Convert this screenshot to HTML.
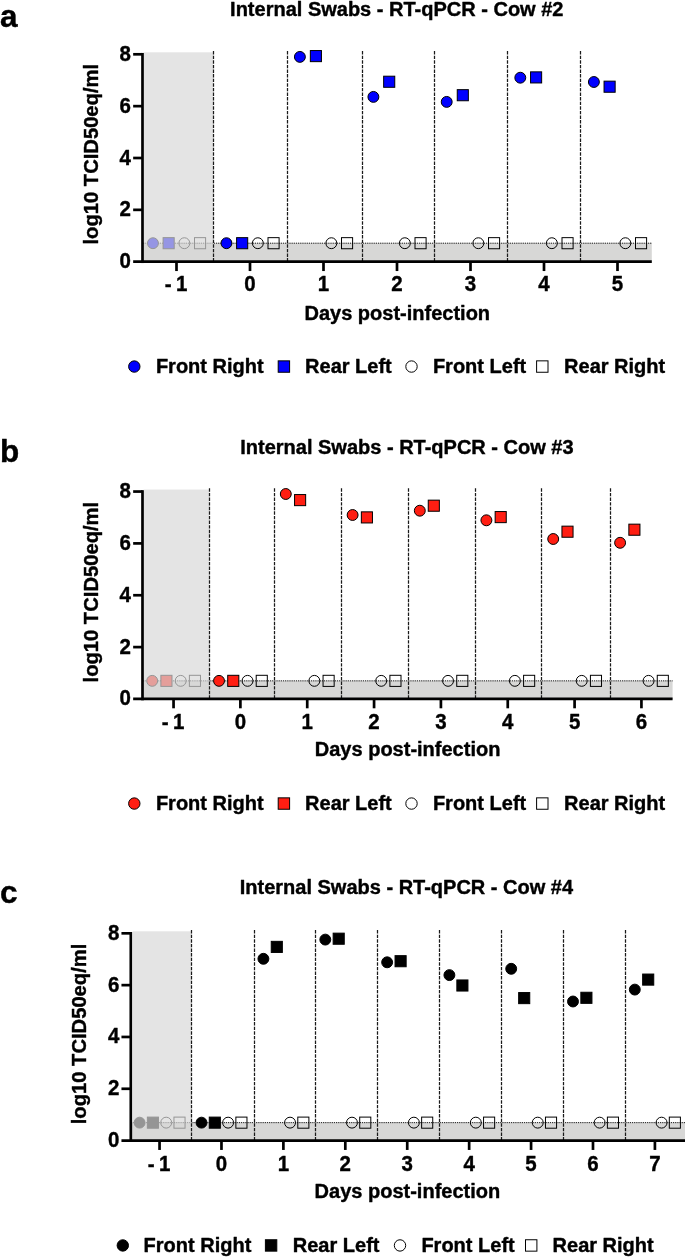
<!DOCTYPE html>
<html><head><meta charset="utf-8"><title>Internal Swabs - RT-qPCR</title>
<style>
html,body{margin:0;padding:0;background:#fff;}
body{width:685px;height:1258px;overflow:hidden;}
svg{display:block;}
svg text{font-family:'Liberation Sans', sans-serif;font-weight:bold;fill:#000;stroke:#000;stroke-width:0.4px;stroke-linejoin:round;}
</style></head><body>
<svg width="685" height="1258" viewBox="0 0 685 1258">
<rect width="685" height="1258" fill="#fff"/>
<g id="chart-a">
<rect x="142.5" y="243.2" width="509.3" height="18.5" fill="#d7d7d6"/>
<line x1="287.5" y1="51.1" x2="287.5" y2="261.7" stroke="#1a1a1a" stroke-width="1.25" stroke-dasharray="3.4 1.2"/>
<line x1="362.5" y1="51.1" x2="362.5" y2="261.7" stroke="#1a1a1a" stroke-width="1.25" stroke-dasharray="3.4 1.2"/>
<line x1="434.5" y1="51.1" x2="434.5" y2="261.7" stroke="#1a1a1a" stroke-width="1.25" stroke-dasharray="3.4 1.2"/>
<line x1="507.5" y1="51.1" x2="507.5" y2="261.7" stroke="#1a1a1a" stroke-width="1.25" stroke-dasharray="3.4 1.2"/>
<line x1="580.5" y1="51.1" x2="580.5" y2="261.7" stroke="#1a1a1a" stroke-width="1.25" stroke-dasharray="3.4 1.2"/>
<line x1="142.5" y1="243.2" x2="651.8" y2="243.2" stroke="#161616" stroke-width="1" stroke-dasharray="1.25 0.91"/>
<circle cx="152.95" cy="243.2" r="5.45" fill="#0000ff" stroke="#000" stroke-width="1"/>
<rect x="163.1" y="237.65" width="11.1" height="11.1" fill="#0000ff" stroke="#000" stroke-width="1"/>
<circle cx="184.35" cy="243.2" r="5.45" fill="none" stroke="#000" stroke-width="1"/>
<rect x="194.5" y="237.65" width="11.1" height="11.1" fill="none" stroke="#000" stroke-width="1"/>
<circle cx="226.45" cy="243.2" r="5.45" fill="#0000ff" stroke="#000" stroke-width="1"/>
<rect x="236.6" y="237.65" width="11.1" height="11.1" fill="#0000ff" stroke="#000" stroke-width="1"/>
<circle cx="257.85" cy="243.2" r="5.45" fill="none" stroke="#000" stroke-width="1"/>
<rect x="268" y="237.65" width="11.1" height="11.1" fill="none" stroke="#000" stroke-width="1"/>
<circle cx="299.9" cy="56.9" r="5.45" fill="#0000ff" stroke="#000" stroke-width="1"/>
<rect x="310.35" y="50.55" width="11.1" height="11.1" fill="#0000ff" stroke="#000" stroke-width="1"/>
<circle cx="331.35" cy="243.2" r="5.45" fill="none" stroke="#000" stroke-width="1"/>
<rect x="341.5" y="237.65" width="11.1" height="11.1" fill="none" stroke="#000" stroke-width="1"/>
<circle cx="373.4" cy="96.9" r="5.45" fill="#0000ff" stroke="#000" stroke-width="1"/>
<rect x="383.65" y="76.2" width="11.1" height="11.1" fill="#0000ff" stroke="#000" stroke-width="1"/>
<circle cx="404.85" cy="243.2" r="5.45" fill="none" stroke="#000" stroke-width="1"/>
<rect x="415" y="237.65" width="11.1" height="11.1" fill="none" stroke="#000" stroke-width="1"/>
<circle cx="446.7" cy="101.9" r="5.45" fill="#0000ff" stroke="#000" stroke-width="1"/>
<rect x="457.25" y="89.65" width="11.1" height="11.1" fill="#0000ff" stroke="#000" stroke-width="1"/>
<circle cx="478.35" cy="243.2" r="5.45" fill="none" stroke="#000" stroke-width="1"/>
<rect x="488.5" y="237.65" width="11.1" height="11.1" fill="none" stroke="#000" stroke-width="1"/>
<circle cx="520.3" cy="77.7" r="5.45" fill="#0000ff" stroke="#000" stroke-width="1"/>
<rect x="530.55" y="71.85" width="11.1" height="11.1" fill="#0000ff" stroke="#000" stroke-width="1"/>
<circle cx="551.85" cy="243.2" r="5.45" fill="none" stroke="#000" stroke-width="1"/>
<rect x="562" y="237.65" width="11.1" height="11.1" fill="none" stroke="#000" stroke-width="1"/>
<circle cx="593.9" cy="82" r="5.45" fill="#0000ff" stroke="#000" stroke-width="1"/>
<rect x="604.05" y="81.15" width="11.1" height="11.1" fill="#0000ff" stroke="#000" stroke-width="1"/>
<circle cx="625.35" cy="243.2" r="5.45" fill="none" stroke="#000" stroke-width="1"/>
<rect x="635.5" y="237.65" width="11.1" height="11.1" fill="none" stroke="#000" stroke-width="1"/>
<rect x="143.65" y="52.3" width="69.85" height="209.4" fill="#d8d8d8" fill-opacity="0.69"/>
<line x1="213.5" y1="51.1" x2="213.5" y2="261.7" stroke="#1a1a1a" stroke-width="1.25" stroke-dasharray="3.4 1.2"/>
<line x1="142.5" y1="52.95" x2="142.5" y2="263.05" stroke="#000" stroke-width="2.7"/>
<line x1="133.15" y1="261.7" x2="651.8" y2="261.7" stroke="#000" stroke-width="2.7"/>
<line x1="133.15" y1="209.85" x2="142.5" y2="209.85" stroke="#000" stroke-width="2.7"/>
<line x1="133.15" y1="158" x2="142.5" y2="158" stroke="#000" stroke-width="2.7"/>
<line x1="133.15" y1="106.15" x2="142.5" y2="106.15" stroke="#000" stroke-width="2.7"/>
<line x1="133.15" y1="54.3" x2="142.5" y2="54.3" stroke="#000" stroke-width="2.7"/>
<text x="119.6" y="268.2" font-size="22" textLength="11.4" lengthAdjust="spacingAndGlyphs">0</text>
<text x="119.6" y="216.35" font-size="22" textLength="11.4" lengthAdjust="spacingAndGlyphs">2</text>
<text x="119.6" y="164.5" font-size="22" textLength="11.4" lengthAdjust="spacingAndGlyphs">4</text>
<text x="119.6" y="112.65" font-size="22" textLength="11.4" lengthAdjust="spacingAndGlyphs">6</text>
<text x="119.6" y="60.8" font-size="22" textLength="11.4" lengthAdjust="spacingAndGlyphs">8</text>
<line x1="176.5" y1="261.7" x2="176.5" y2="271.05" stroke="#000" stroke-width="2.7"/>
<text y="291.2" font-size="22"><tspan x="164.8" textLength="6.85" lengthAdjust="spacingAndGlyphs">-</tspan><tspan x="176" textLength="11.4" lengthAdjust="spacingAndGlyphs">1</tspan></text>
<line x1="250" y1="261.7" x2="250" y2="271.05" stroke="#000" stroke-width="2.7"/>
<text x="244.3" y="291.2" font-size="22" textLength="11.4" lengthAdjust="spacingAndGlyphs">0</text>
<line x1="323.5" y1="261.7" x2="323.5" y2="271.05" stroke="#000" stroke-width="2.7"/>
<text x="317.8" y="291.2" font-size="22" textLength="11.4" lengthAdjust="spacingAndGlyphs">1</text>
<line x1="397" y1="261.7" x2="397" y2="271.05" stroke="#000" stroke-width="2.7"/>
<text x="391.3" y="291.2" font-size="22" textLength="11.4" lengthAdjust="spacingAndGlyphs">2</text>
<line x1="470.5" y1="261.7" x2="470.5" y2="271.05" stroke="#000" stroke-width="2.7"/>
<text x="464.8" y="291.2" font-size="22" textLength="11.4" lengthAdjust="spacingAndGlyphs">3</text>
<line x1="544" y1="261.7" x2="544" y2="271.05" stroke="#000" stroke-width="2.7"/>
<text x="538.3" y="291.2" font-size="22" textLength="11.4" lengthAdjust="spacingAndGlyphs">4</text>
<line x1="617.5" y1="261.7" x2="617.5" y2="271.05" stroke="#000" stroke-width="2.7"/>
<text x="611.8" y="291.2" font-size="22" textLength="11.4" lengthAdjust="spacingAndGlyphs">5</text>
<text x="397.3" y="319.6" text-anchor="middle" font-size="20">Days post-infection</text>
<text transform="translate(98 154.2) rotate(-90)" text-anchor="middle" font-size="20.2">log10 TCID50eq/ml</text>
<text x="396.8" y="15.8" text-anchor="middle" font-size="20">Internal Swabs - RT-qPCR - Cow #2</text>
<text x="0" y="27" font-size="31.5">a</text>
<circle cx="134.3" cy="366.55" r="5.7" fill="#0000ff" stroke="#000" stroke-width="1"/>
<text x="155.9" y="372.85" font-size="20">Front Right</text>
<rect x="278.2" y="360.85" width="11.4" height="11.4" fill="#0000ff" stroke="#000" stroke-width="1"/>
<text x="305.1" y="372.85" font-size="20">Rear Left</text>
<circle cx="411.5" cy="366.55" r="5.7" fill="none" stroke="#000" stroke-width="1"/>
<text x="432.9" y="372.85" font-size="20">Front Left</text>
<rect x="536.6" y="360.85" width="11.4" height="11.4" fill="none" stroke="#000" stroke-width="1"/>
<text x="564.1" y="372.85" font-size="20">Rear Right</text>
</g>
<g id="chart-b">
<rect x="142.5" y="680.85" width="530.1" height="18.1" fill="#d7d7d6"/>
<line x1="274.5" y1="488.35" x2="274.5" y2="698.95" stroke="#1a1a1a" stroke-width="1.25" stroke-dasharray="3.4 1.2"/>
<line x1="341.5" y1="488.35" x2="341.5" y2="698.95" stroke="#1a1a1a" stroke-width="1.25" stroke-dasharray="3.4 1.2"/>
<line x1="408.5" y1="488.35" x2="408.5" y2="698.95" stroke="#1a1a1a" stroke-width="1.25" stroke-dasharray="3.4 1.2"/>
<line x1="475.5" y1="488.35" x2="475.5" y2="698.95" stroke="#1a1a1a" stroke-width="1.25" stroke-dasharray="3.4 1.2"/>
<line x1="541.5" y1="488.35" x2="541.5" y2="698.95" stroke="#1a1a1a" stroke-width="1.25" stroke-dasharray="3.4 1.2"/>
<line x1="610.5" y1="488.35" x2="610.5" y2="698.95" stroke="#1a1a1a" stroke-width="1.25" stroke-dasharray="3.4 1.2"/>
<line x1="142.5" y1="680.85" x2="672.6" y2="680.85" stroke="#161616" stroke-width="1" stroke-dasharray="1.25 0.91"/>
<circle cx="152.18" cy="680.85" r="5.45" fill="#ff1e12" stroke="#000" stroke-width="1"/>
<rect x="160.88" y="675.3" width="11.1" height="11.1" fill="#ff1e12" stroke="#000" stroke-width="1"/>
<circle cx="180.68" cy="680.85" r="5.45" fill="none" stroke="#000" stroke-width="1"/>
<rect x="189.38" y="675.3" width="11.1" height="11.1" fill="none" stroke="#000" stroke-width="1"/>
<circle cx="219.02" cy="680.85" r="5.45" fill="#ff1e12" stroke="#000" stroke-width="1"/>
<rect x="227.72" y="675.3" width="11.1" height="11.1" fill="#ff1e12" stroke="#000" stroke-width="1"/>
<circle cx="247.52" cy="680.85" r="5.45" fill="none" stroke="#000" stroke-width="1"/>
<rect x="256.21" y="675.3" width="11.1" height="11.1" fill="none" stroke="#000" stroke-width="1"/>
<circle cx="285.8" cy="494" r="5.45" fill="#ff1e12" stroke="#000" stroke-width="1"/>
<rect x="294.55" y="494.55" width="11.1" height="11.1" fill="#ff1e12" stroke="#000" stroke-width="1"/>
<circle cx="314.36" cy="680.85" r="5.45" fill="none" stroke="#000" stroke-width="1"/>
<rect x="323.06" y="675.3" width="11.1" height="11.1" fill="none" stroke="#000" stroke-width="1"/>
<circle cx="352.6" cy="515" r="5.45" fill="#ff1e12" stroke="#000" stroke-width="1"/>
<rect x="361.35" y="511.85" width="11.1" height="11.1" fill="#ff1e12" stroke="#000" stroke-width="1"/>
<circle cx="381.2" cy="680.85" r="5.45" fill="none" stroke="#000" stroke-width="1"/>
<rect x="389.9" y="675.3" width="11.1" height="11.1" fill="none" stroke="#000" stroke-width="1"/>
<circle cx="419.8" cy="510.7" r="5.45" fill="#ff1e12" stroke="#000" stroke-width="1"/>
<rect x="428.25" y="500.15" width="11.1" height="11.1" fill="#ff1e12" stroke="#000" stroke-width="1"/>
<circle cx="448.04" cy="680.85" r="5.45" fill="none" stroke="#000" stroke-width="1"/>
<rect x="456.74" y="675.3" width="11.1" height="11.1" fill="none" stroke="#000" stroke-width="1"/>
<circle cx="486.4" cy="520.3" r="5.45" fill="#ff1e12" stroke="#000" stroke-width="1"/>
<rect x="495.15" y="511.55" width="11.1" height="11.1" fill="#ff1e12" stroke="#000" stroke-width="1"/>
<circle cx="514.88" cy="680.85" r="5.45" fill="none" stroke="#000" stroke-width="1"/>
<rect x="523.58" y="675.3" width="11.1" height="11.1" fill="none" stroke="#000" stroke-width="1"/>
<circle cx="553.2" cy="539" r="5.45" fill="#ff1e12" stroke="#000" stroke-width="1"/>
<rect x="561.95" y="526.15" width="11.1" height="11.1" fill="#ff1e12" stroke="#000" stroke-width="1"/>
<circle cx="581.72" cy="680.85" r="5.45" fill="none" stroke="#000" stroke-width="1"/>
<rect x="590.42" y="675.3" width="11.1" height="11.1" fill="none" stroke="#000" stroke-width="1"/>
<circle cx="620.1" cy="542.8" r="5.45" fill="#ff1e12" stroke="#000" stroke-width="1"/>
<rect x="628.85" y="524.15" width="11.1" height="11.1" fill="#ff1e12" stroke="#000" stroke-width="1"/>
<circle cx="648.56" cy="680.85" r="5.45" fill="none" stroke="#000" stroke-width="1"/>
<rect x="657.26" y="675.3" width="11.1" height="11.1" fill="none" stroke="#000" stroke-width="1"/>
<rect x="143.65" y="489.55" width="65.85" height="209.4" fill="#d8d8d8" fill-opacity="0.69"/>
<line x1="209.5" y1="488.35" x2="209.5" y2="698.95" stroke="#1a1a1a" stroke-width="1.25" stroke-dasharray="3.4 1.2"/>
<line x1="142.5" y1="490.2" x2="142.5" y2="700.3" stroke="#000" stroke-width="2.7"/>
<line x1="133.15" y1="698.95" x2="672.6" y2="698.95" stroke="#000" stroke-width="2.7"/>
<line x1="133.15" y1="647.1" x2="142.5" y2="647.1" stroke="#000" stroke-width="2.7"/>
<line x1="133.15" y1="595.25" x2="142.5" y2="595.25" stroke="#000" stroke-width="2.7"/>
<line x1="133.15" y1="543.4" x2="142.5" y2="543.4" stroke="#000" stroke-width="2.7"/>
<line x1="133.15" y1="491.55" x2="142.5" y2="491.55" stroke="#000" stroke-width="2.7"/>
<text x="119.6" y="705.45" font-size="22" textLength="11.4" lengthAdjust="spacingAndGlyphs">0</text>
<text x="119.6" y="653.6" font-size="22" textLength="11.4" lengthAdjust="spacingAndGlyphs">2</text>
<text x="119.6" y="601.75" font-size="22" textLength="11.4" lengthAdjust="spacingAndGlyphs">4</text>
<text x="119.6" y="549.9" font-size="22" textLength="11.4" lengthAdjust="spacingAndGlyphs">6</text>
<text x="119.6" y="498.05" font-size="22" textLength="11.4" lengthAdjust="spacingAndGlyphs">8</text>
<line x1="173.55" y1="698.95" x2="173.55" y2="708.3" stroke="#000" stroke-width="2.7"/>
<text y="729.15" font-size="22"><tspan x="161.85" textLength="6.85" lengthAdjust="spacingAndGlyphs">-</tspan><tspan x="173.05" textLength="11.4" lengthAdjust="spacingAndGlyphs">1</tspan></text>
<line x1="240.39" y1="698.95" x2="240.39" y2="708.3" stroke="#000" stroke-width="2.7"/>
<text x="234.69" y="729.15" font-size="22" textLength="11.4" lengthAdjust="spacingAndGlyphs">0</text>
<line x1="307.23" y1="698.95" x2="307.23" y2="708.3" stroke="#000" stroke-width="2.7"/>
<text x="301.53" y="729.15" font-size="22" textLength="11.4" lengthAdjust="spacingAndGlyphs">1</text>
<line x1="374.07" y1="698.95" x2="374.07" y2="708.3" stroke="#000" stroke-width="2.7"/>
<text x="368.37" y="729.15" font-size="22" textLength="11.4" lengthAdjust="spacingAndGlyphs">2</text>
<line x1="440.91" y1="698.95" x2="440.91" y2="708.3" stroke="#000" stroke-width="2.7"/>
<text x="435.21" y="729.15" font-size="22" textLength="11.4" lengthAdjust="spacingAndGlyphs">3</text>
<line x1="507.75" y1="698.95" x2="507.75" y2="708.3" stroke="#000" stroke-width="2.7"/>
<text x="502.05" y="729.15" font-size="22" textLength="11.4" lengthAdjust="spacingAndGlyphs">4</text>
<line x1="574.59" y1="698.95" x2="574.59" y2="708.3" stroke="#000" stroke-width="2.7"/>
<text x="568.89" y="729.15" font-size="22" textLength="11.4" lengthAdjust="spacingAndGlyphs">5</text>
<line x1="641.43" y1="698.95" x2="641.43" y2="708.3" stroke="#000" stroke-width="2.7"/>
<text x="635.73" y="729.15" font-size="22" textLength="11.4" lengthAdjust="spacingAndGlyphs">6</text>
<text x="407.6" y="755.95" text-anchor="middle" font-size="20">Days post-infection</text>
<text transform="translate(98 592.15) rotate(-90)" text-anchor="middle" font-size="20.2">log10 TCID50eq/ml</text>
<text x="406.9" y="453.65" text-anchor="middle" font-size="20">Internal Swabs - RT-qPCR - Cow #3</text>
<text x="0" y="461.6" font-size="31.5">b</text>
<circle cx="134.3" cy="803.55" r="5.7" fill="#ff1e12" stroke="#000" stroke-width="1"/>
<text x="155.9" y="809.75" font-size="20">Front Right</text>
<rect x="278.2" y="797.85" width="11.4" height="11.4" fill="#ff1e12" stroke="#000" stroke-width="1"/>
<text x="305.1" y="809.75" font-size="20">Rear Left</text>
<circle cx="411.5" cy="803.55" r="5.7" fill="none" stroke="#000" stroke-width="1"/>
<text x="432.9" y="809.75" font-size="20">Front Left</text>
<rect x="536.6" y="797.85" width="11.4" height="11.4" fill="none" stroke="#000" stroke-width="1"/>
<text x="564.1" y="809.75" font-size="20">Rear Right</text>
</g>
<g id="chart-c">
<rect x="130.8" y="1122.65" width="555.2" height="17.95" fill="#d7d7d6"/>
<line x1="254.5" y1="930.12" x2="254.5" y2="1140.6" stroke="#1a1a1a" stroke-width="1.25" stroke-dasharray="3.4 1.2"/>
<line x1="315.5" y1="930.12" x2="315.5" y2="1140.6" stroke="#1a1a1a" stroke-width="1.25" stroke-dasharray="3.4 1.2"/>
<line x1="377.5" y1="930.12" x2="377.5" y2="1140.6" stroke="#1a1a1a" stroke-width="1.25" stroke-dasharray="3.4 1.2"/>
<line x1="439.5" y1="930.12" x2="439.5" y2="1140.6" stroke="#1a1a1a" stroke-width="1.25" stroke-dasharray="3.4 1.2"/>
<line x1="501.5" y1="930.12" x2="501.5" y2="1140.6" stroke="#1a1a1a" stroke-width="1.25" stroke-dasharray="3.4 1.2"/>
<line x1="563.5" y1="930.12" x2="563.5" y2="1140.6" stroke="#1a1a1a" stroke-width="1.25" stroke-dasharray="3.4 1.2"/>
<line x1="625.5" y1="930.12" x2="625.5" y2="1140.6" stroke="#1a1a1a" stroke-width="1.25" stroke-dasharray="3.4 1.2"/>
<line x1="130.8" y1="1122.65" x2="686" y2="1122.65" stroke="#161616" stroke-width="1" stroke-dasharray="1.25 0.91"/>
<circle cx="139.6" cy="1122.65" r="5.45" fill="#000000" stroke="#000" stroke-width="1"/>
<rect x="147.35" y="1117.1" width="11.1" height="11.1" fill="#000000" stroke="#000" stroke-width="1"/>
<circle cx="166.2" cy="1122.65" r="5.45" fill="none" stroke="#000" stroke-width="1"/>
<rect x="173.95" y="1117.1" width="11.1" height="11.1" fill="none" stroke="#000" stroke-width="1"/>
<circle cx="201.52" cy="1122.65" r="5.45" fill="#000000" stroke="#000" stroke-width="1"/>
<rect x="209.27" y="1117.1" width="11.1" height="11.1" fill="#000000" stroke="#000" stroke-width="1"/>
<circle cx="228.12" cy="1122.65" r="5.45" fill="none" stroke="#000" stroke-width="1"/>
<rect x="235.87" y="1117.1" width="11.1" height="11.1" fill="none" stroke="#000" stroke-width="1"/>
<circle cx="263.4" cy="958.8" r="5.45" fill="#000000" stroke="#000" stroke-width="1"/>
<rect x="271.25" y="941.35" width="11.1" height="11.1" fill="#000000" stroke="#000" stroke-width="1"/>
<circle cx="290.04" cy="1122.65" r="5.45" fill="none" stroke="#000" stroke-width="1"/>
<rect x="297.79" y="1117.1" width="11.1" height="11.1" fill="none" stroke="#000" stroke-width="1"/>
<circle cx="325.3" cy="939.6" r="5.45" fill="#000000" stroke="#000" stroke-width="1"/>
<rect x="333.15" y="933.15" width="11.1" height="11.1" fill="#000000" stroke="#000" stroke-width="1"/>
<circle cx="351.96" cy="1122.65" r="5.45" fill="none" stroke="#000" stroke-width="1"/>
<rect x="359.71" y="1117.1" width="11.1" height="11.1" fill="none" stroke="#000" stroke-width="1"/>
<circle cx="387.15" cy="962.3" r="5.45" fill="#000000" stroke="#000" stroke-width="1"/>
<rect x="395.05" y="955.65" width="11.1" height="11.1" fill="#000000" stroke="#000" stroke-width="1"/>
<circle cx="413.88" cy="1122.65" r="5.45" fill="none" stroke="#000" stroke-width="1"/>
<rect x="421.63" y="1117.1" width="11.1" height="11.1" fill="none" stroke="#000" stroke-width="1"/>
<circle cx="449.4" cy="975.1" r="5.45" fill="#000000" stroke="#000" stroke-width="1"/>
<rect x="456.85" y="979.95" width="11.1" height="11.1" fill="#000000" stroke="#000" stroke-width="1"/>
<circle cx="475.8" cy="1122.65" r="5.45" fill="none" stroke="#000" stroke-width="1"/>
<rect x="483.55" y="1117.1" width="11.1" height="11.1" fill="none" stroke="#000" stroke-width="1"/>
<circle cx="511.2" cy="968.8" r="5.45" fill="#000000" stroke="#000" stroke-width="1"/>
<rect x="518.65" y="992.55" width="11.1" height="11.1" fill="#000000" stroke="#000" stroke-width="1"/>
<circle cx="537.72" cy="1122.65" r="5.45" fill="none" stroke="#000" stroke-width="1"/>
<rect x="545.47" y="1117.1" width="11.1" height="11.1" fill="none" stroke="#000" stroke-width="1"/>
<circle cx="573" cy="1001.5" r="5.45" fill="#000000" stroke="#000" stroke-width="1"/>
<rect x="580.85" y="992.25" width="11.1" height="11.1" fill="#000000" stroke="#000" stroke-width="1"/>
<circle cx="599.64" cy="1122.65" r="5.45" fill="none" stroke="#000" stroke-width="1"/>
<rect x="607.39" y="1117.1" width="11.1" height="11.1" fill="none" stroke="#000" stroke-width="1"/>
<circle cx="634.8" cy="989.6" r="5.45" fill="#000000" stroke="#000" stroke-width="1"/>
<rect x="642.65" y="974.05" width="11.1" height="11.1" fill="#000000" stroke="#000" stroke-width="1"/>
<circle cx="661.56" cy="1122.65" r="5.45" fill="none" stroke="#000" stroke-width="1"/>
<rect x="669.31" y="1117.1" width="11.1" height="11.1" fill="none" stroke="#000" stroke-width="1"/>
<rect x="132.85" y="931.32" width="58.65" height="209.28" fill="#d8d8d8" fill-opacity="0.69"/>
<line x1="191.5" y1="930.12" x2="191.5" y2="1140.6" stroke="#1a1a1a" stroke-width="1.25" stroke-dasharray="3.4 1.2"/>
<line x1="130.8" y1="931.97" x2="130.8" y2="1141.95" stroke="#000" stroke-width="2.7"/>
<line x1="121.45" y1="1140.6" x2="686" y2="1140.6" stroke="#000" stroke-width="2.7"/>
<line x1="121.45" y1="1088.78" x2="130.8" y2="1088.78" stroke="#000" stroke-width="2.7"/>
<line x1="121.45" y1="1036.96" x2="130.8" y2="1036.96" stroke="#000" stroke-width="2.7"/>
<line x1="121.45" y1="985.14" x2="130.8" y2="985.14" stroke="#000" stroke-width="2.7"/>
<line x1="121.45" y1="933.32" x2="130.8" y2="933.32" stroke="#000" stroke-width="2.7"/>
<text x="107.9" y="1147.1" font-size="22" textLength="11.4" lengthAdjust="spacingAndGlyphs">0</text>
<text x="107.9" y="1095.28" font-size="22" textLength="11.4" lengthAdjust="spacingAndGlyphs">2</text>
<text x="107.9" y="1043.46" font-size="22" textLength="11.4" lengthAdjust="spacingAndGlyphs">4</text>
<text x="107.9" y="991.64" font-size="22" textLength="11.4" lengthAdjust="spacingAndGlyphs">6</text>
<text x="107.9" y="939.82" font-size="22" textLength="11.4" lengthAdjust="spacingAndGlyphs">8</text>
<line x1="159.55" y1="1140.6" x2="159.55" y2="1149.95" stroke="#000" stroke-width="2.7"/>
<text y="1171.25" font-size="22"><tspan x="147.85" textLength="6.85" lengthAdjust="spacingAndGlyphs">-</tspan><tspan x="159.05" textLength="11.4" lengthAdjust="spacingAndGlyphs">1</tspan></text>
<line x1="221.47" y1="1140.6" x2="221.47" y2="1149.95" stroke="#000" stroke-width="2.7"/>
<text x="215.77" y="1171.25" font-size="22" textLength="11.4" lengthAdjust="spacingAndGlyphs">0</text>
<line x1="283.39" y1="1140.6" x2="283.39" y2="1149.95" stroke="#000" stroke-width="2.7"/>
<text x="277.69" y="1171.25" font-size="22" textLength="11.4" lengthAdjust="spacingAndGlyphs">1</text>
<line x1="345.31" y1="1140.6" x2="345.31" y2="1149.95" stroke="#000" stroke-width="2.7"/>
<text x="339.61" y="1171.25" font-size="22" textLength="11.4" lengthAdjust="spacingAndGlyphs">2</text>
<line x1="407.23" y1="1140.6" x2="407.23" y2="1149.95" stroke="#000" stroke-width="2.7"/>
<text x="401.53" y="1171.25" font-size="22" textLength="11.4" lengthAdjust="spacingAndGlyphs">3</text>
<line x1="469.15" y1="1140.6" x2="469.15" y2="1149.95" stroke="#000" stroke-width="2.7"/>
<text x="463.45" y="1171.25" font-size="22" textLength="11.4" lengthAdjust="spacingAndGlyphs">4</text>
<line x1="531.07" y1="1140.6" x2="531.07" y2="1149.95" stroke="#000" stroke-width="2.7"/>
<text x="525.37" y="1171.25" font-size="22" textLength="11.4" lengthAdjust="spacingAndGlyphs">5</text>
<line x1="592.99" y1="1140.6" x2="592.99" y2="1149.95" stroke="#000" stroke-width="2.7"/>
<text x="587.29" y="1171.25" font-size="22" textLength="11.4" lengthAdjust="spacingAndGlyphs">6</text>
<line x1="654.91" y1="1140.6" x2="654.91" y2="1149.95" stroke="#000" stroke-width="2.7"/>
<text x="649.21" y="1171.25" font-size="22" textLength="11.4" lengthAdjust="spacingAndGlyphs">7</text>
<text x="407.4" y="1197.6" text-anchor="middle" font-size="20">Days post-infection</text>
<text transform="translate(86.3 1033.96) rotate(-90)" text-anchor="middle" font-size="20.2">log10 TCID50eq/ml</text>
<text x="406.4" y="894.22" text-anchor="middle" font-size="20">Internal Swabs - RT-qPCR - Cow #4</text>
<text x="0" y="902.7" font-size="31.5">c</text>
<circle cx="122.8" cy="1245.45" r="5.7" fill="#000000" stroke="#000" stroke-width="1"/>
<text x="143.6" y="1251.95" font-size="20">Front Right</text>
<rect x="265.4" y="1239.75" width="11.4" height="11.4" fill="#000000" stroke="#000" stroke-width="1"/>
<text x="292.8" y="1251.95" font-size="20">Rear Left</text>
<circle cx="400" cy="1245.45" r="5.7" fill="none" stroke="#000" stroke-width="1"/>
<text x="421.4" y="1251.95" font-size="20">Front Left</text>
<rect x="525.5" y="1239.75" width="11.4" height="11.4" fill="none" stroke="#000" stroke-width="1"/>
<text x="552.6" y="1251.95" font-size="20">Rear Right</text>
</g>
</svg>
</body></html>
